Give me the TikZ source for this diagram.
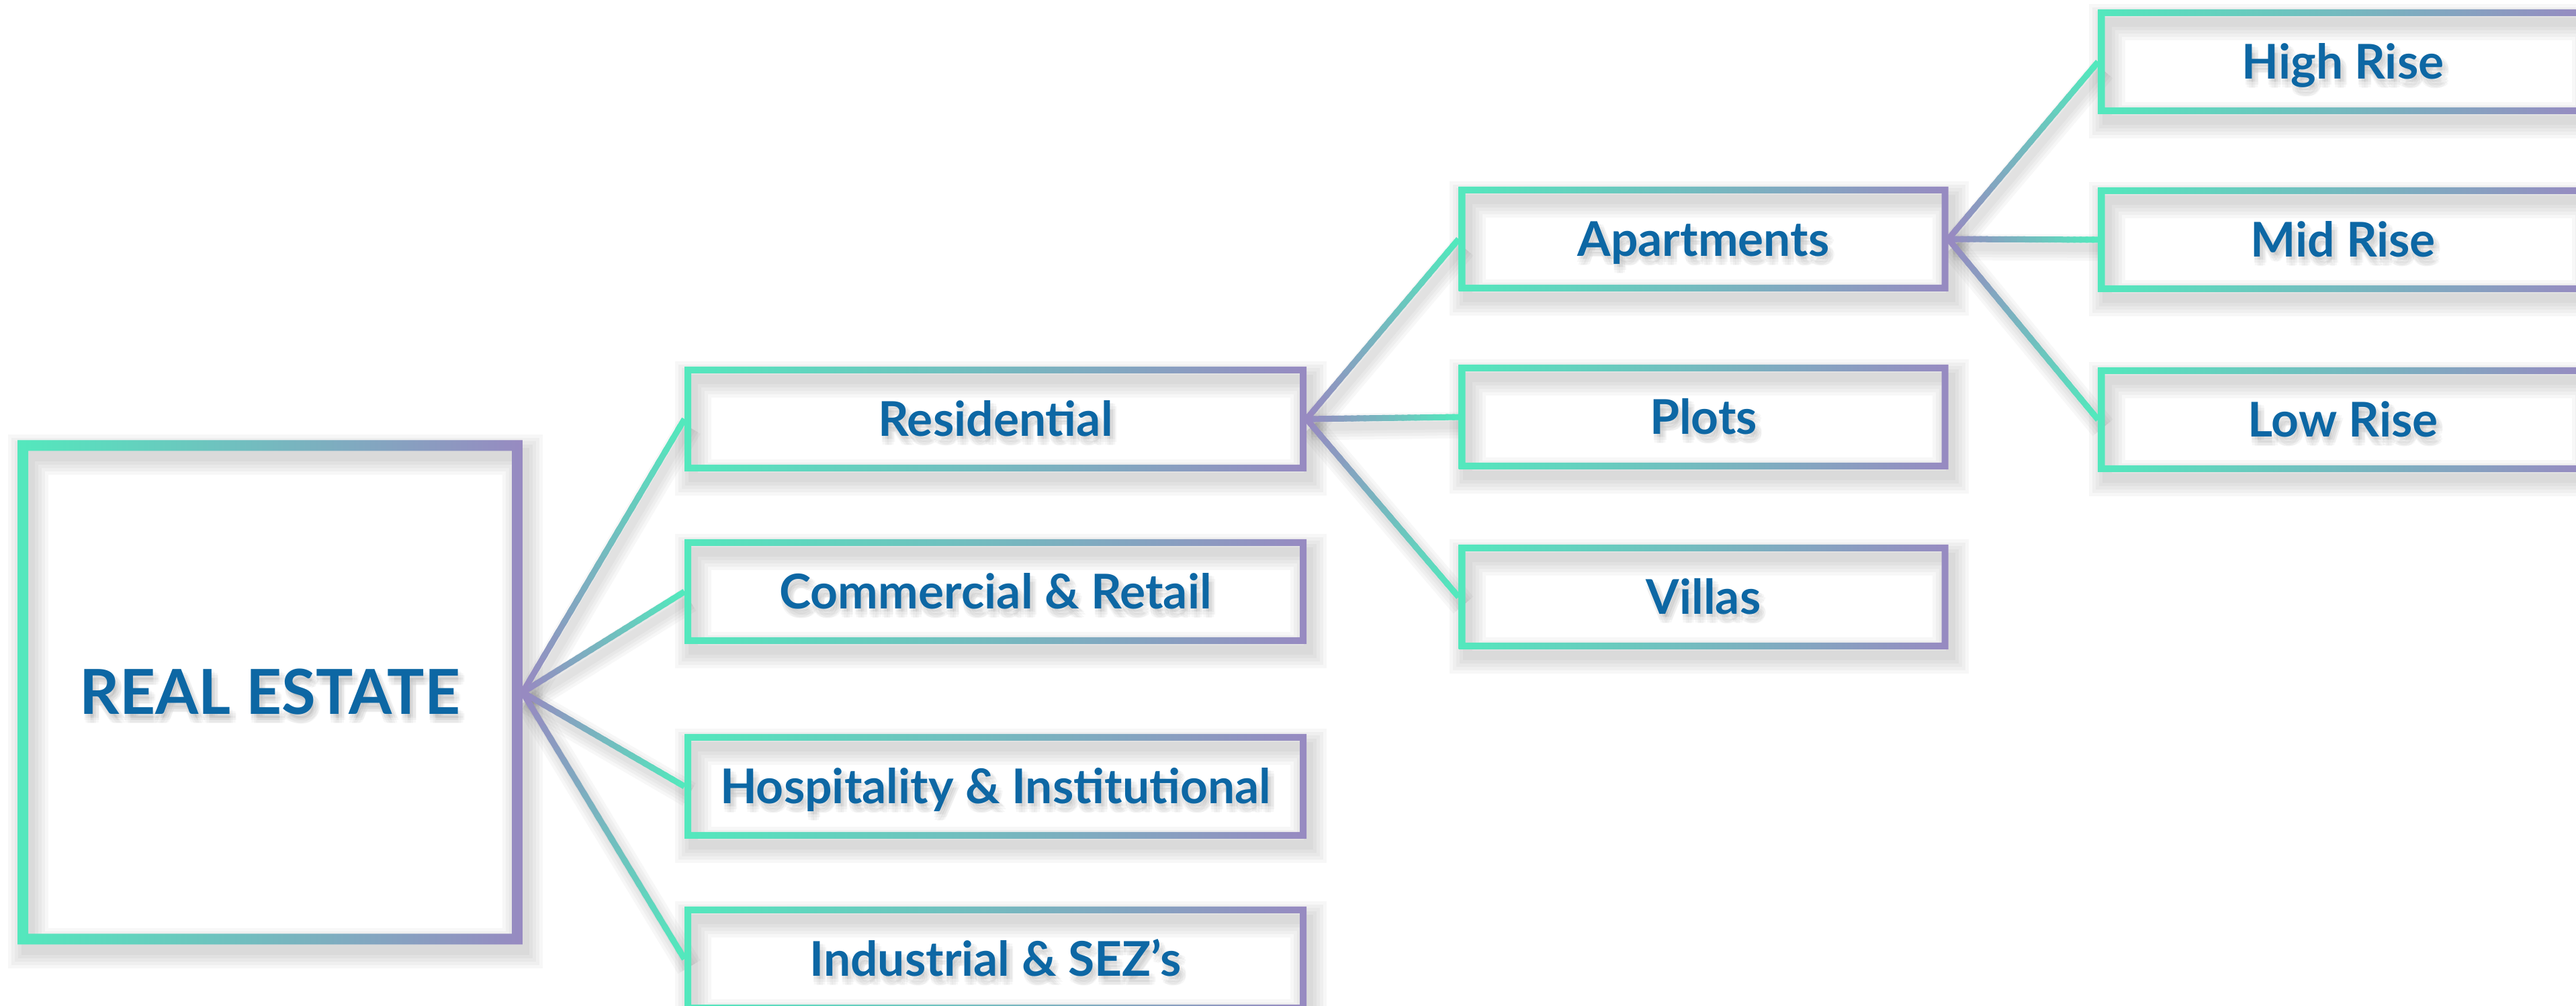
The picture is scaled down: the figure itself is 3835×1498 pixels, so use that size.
\documentclass[tikz,border=0pt]{standalone}
\usepackage{fontspec}
\setmainfont{Lato}
\usetikzlibrary{calc,backgrounds}

\definecolor{mint}{HTML}{53E8BD}
\definecolor{lav}{HTML}{978AC1}
\definecolor{ink}{HTML}{0D67A4}

\tikzset{
  base/.style={inner sep=0pt, outer sep=0pt, text=ink,
    font=\bfseries\fontsize{20.3}{21}\selectfont,
    text height=5.1mm, text depth=0pt, minimum height=15.6mm},
  root/.style={base, minimum width=75.2mm, minimum height=75.1mm,
    font=\bfseries\fontsize{26.3}{27}\selectfont, text height=6.6mm},
  cat/.style={base, minimum width=92.6mm},
  sub/.style={base, minimum width=72.9mm},
  haze/.style={black, opacity=.03},
}

% frame with a left-to-right gradient, #2 = border width
\newcommand\gframe[2]{%
  \shade[left color=mint, right color=lav]
    (#1.north west) -- (#1.north east) -- (#1.south east) -- (#1.south west) -- cycle
    ([shift={(#2,#2)}]#1.north west) -- ([shift={(#2,-#2)}]#1.south west)
    -- ([shift={(-#2,-#2)}]#1.south east) -- ([shift={(-#2,#2)}]#1.north east) -- cycle;
}
% soft shadow of a frame
\newcommand\fshadow[2]{%
  \foreach \g in {4,14,24,34,44}
    \draw[haze, line width=(#2+\g)*0.1mm]
      ([shift={(#2/2+8,#2/2+14)}]#1.north west) rectangle ([shift={(-#2/2+8,-#2/2+14)}]#1.south east);
}
% connector, lavender at the parent, mint at the child
\newcommand\glink[2]{%
  \foreach \k [evaluate=\k as \ta using \k/24,
               evaluate=\k as \tb using {min((\k+1.4)/24,1)},
               evaluate=\k as \p using 100-100*\k/23] in {0,...,23}
    \draw[line width=0.9mm, lav!\p!mint] ($(#1)!\ta!(#2)$) -- ($(#1)!\tb!(#2)$);
}
\newcommand\lshadow[2]{%
  \foreach \g in {3,12,21,30}
    \draw[haze, line width=(9+\g)*0.1mm] ([shift={(7,12)}]#1) -- ([shift={(7,12)}]#2);
}

\begin{document}
\begin{tikzpicture}[x=0.1mm, y=-0.1mm]
  \useasboundingbox (0,0) rectangle (3835,1498);

  \node[root] (re) at (402,1031) {REAL ESTATE};

  \node[cat] (res) at (1482,624) {Residential};
  \node[cat] (com) at (1482,881) {Commercial \& Retail};
  \node[cat] (hos) at (1482,1171) {Hospitality \& Institutional};
  \node[cat] (ind) at (1482,1428) {Industrial \& SEZ’s};

  \node[sub] (apt) at (2536,356) {Apartments};
  \node[sub] (plo) at (2536,621) {Plots};
  \node[sub] (vil) at (2536,889) {Villas};

  \node[sub] (hig) at (3488,92) {High Rise};
  \node[sub] (mid) at (3488,357) {Mid Rise};
  \node[sub] (low) at (3488,625) {Low Rise};

  \begin{scope}[on background layer]
    % blurred copies under the labels
    \foreach \nm/\txt/\sty in {re/REAL ESTATE/root, res/Residential/cat,
        com/Commercial \& Retail/cat, hos/Hospitality \& Institutional/cat,
        ind/Industrial \& SEZ’s/cat, apt/Apartments/sub, plo/Plots/sub,
        vil/Villas/sub, hig/High Rise/sub, mid/Mid Rise/sub, low/Low Rise/sub}
      \foreach \ang in {0,45,...,315}
        \node[\sty, text=black, text opacity=.03] (\nm-\ang)
          at ([shift={({5+5*cos(\ang)},{9+5*sin(\ang)})}]\nm) {\txt};

    \fshadow{re}{16}
    \foreach \nm in {res,com,hos,ind,apt,plo,vil,hig,mid,low}
      {\fshadow{\nm}{10}}

    \foreach \ch in {res,com,hos,ind} {\lshadow{re.east}{\ch.west}}
    \foreach \ch in {apt,plo,vil} {\lshadow{res.east}{\ch.west}}
    \foreach \ch in {hig,mid,low} {\lshadow{apt.east}{\ch.west}}

    \foreach \ch in {res,com,hos,ind} {\glink{re.east}{\ch.west}}
    \foreach \ch in {apt,plo,vil} {\glink{res.east}{\ch.west}}
    \foreach \ch in {hig,mid,low} {\glink{apt.east}{\ch.west}}

    \gframe{re}{16}
    \foreach \nm in {res,com,hos,ind,apt,plo,vil,hig,mid,low}
      {\gframe{\nm}{10}}
  \end{scope}
\end{tikzpicture}
\end{document}
